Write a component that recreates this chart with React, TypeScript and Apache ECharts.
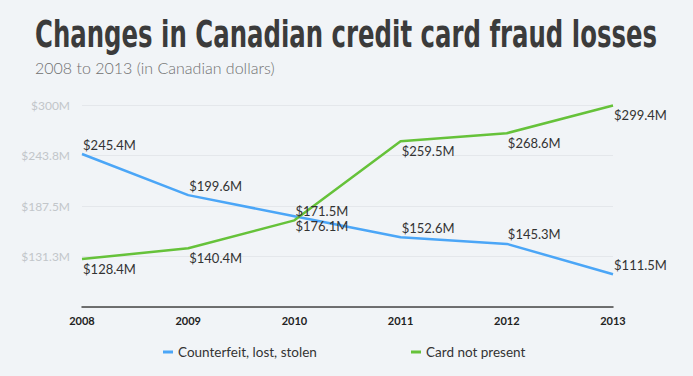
import React, { useEffect, useRef } from "react";
import * as echarts from "echarts";

const years = ["2008", "2009", "2010", "2011", "2012", "2013"];
const counterfeit = [245.4, 199.6, 176.1, 152.6, 145.3, 111.5];
const cardNotPresent = [128.4, 140.4, 171.5, 259.5, 268.6, 299.4];
// label above (-1) or below (+1) each point
const counterfeitLabelSide = [-1, -1, 1, -1, -1, -1];
const cardLabelSide = [1, 1, -1, 1, 1, 1];
const seriesNames = ["Counterfeit, lost, stolen", "Card not present"];
const titleText = "Changes in Canadian credit card fraud losses";
const subtitleText = "2008 to 2013 (in Canadian dollars)";

const BG = "#f1f4f7";
const BLUE = "#4ba6f7";
const GREEN = "#66c23a";

function measure(text: string, font: string): number {
  const c = document.createElement("canvas");
  const ctx = c.getContext("2d")!;
  ctx.font = font;
  return ctx.measureText(text).width;
}

export default function App() {
  const ref = useRef<HTMLDivElement>(null);
  useEffect(() => {
    document.body.style.margin = "0";
    document.body.style.background = BG;
    if (!ref.current) return;
    const chart = echarts.init(ref.current, undefined, { renderer: "svg" });
    const titleFont = 'bold 37px "DejaVu Sans Condensed"';
    const tw = measure(titleText, titleFont);
    const titleScale = tw > 0 ? 622 / tw : 1;

    const mkData = (vals: number[], sides: number[]) =>
      vals.map((v, i) => ({
        value: v,
        label: { offset: [0, sides[i] * 9.5] },
      }));

    const labelStyle = {
      show: true,
      position: "right" as const,
      distance: 1,
      color: "#333",
      fontSize: 13,
      lineHeight: 12,
      fontFamily: "Lato",
      formatter: (p: any) => "$" + p.value.toFixed(1) + "M",
    };

    chart.setOption({
      animation: false,
      backgroundColor: BG,
      graphic: [
        {
          type: "text",
          x: 35,
          y: 34,
          scaleX: titleScale,
          style: {
            text: titleText,
            font: titleFont,
            fill: "#3b3b3b",
            verticalAlign: "middle",
            align: "left",
          },
        },
        {
          type: "text",
          x: 35,
          y: 67,
          style: {
            text: subtitleText,
            font: '300 16px "Lato"',
            fill: "#707070",
            verticalAlign: "middle",
            align: "left",
          },
        },
      ],
      grid: { left: 82, right: 80, top: 105, bottom: 69 },
      xAxis: {
        type: "category",
        data: years,
        boundaryGap: false,
        axisLine: { lineStyle: { color: "#444", width: 1.5 } },
        axisTick: { show: false },
        axisLabel: {
          color: "#222",
          fontSize: 11,
          fontFamily: "Lato",
          fontWeight: "bold",
          margin: 8,
        },
        splitLine: { show: false },
      },
      yAxis: {
        type: "value",
        min: 75,
        max: 300,
        interval: 56.25,
        axisLine: { show: false },
        axisTick: { show: false },
        axisLabel: {
          color: "#c2c6ca",
          fontSize: 12,
          fontFamily: "Lato",
          margin: 12,
          showMinLabel: false,
          formatter: (v: number) =>
            "$" + (Number.isInteger(v) ? String(v) : v.toFixed(1)) + "M",
        },
        splitLine: { lineStyle: { color: "#e4e7eb", width: 1 } },
      },
      legend: [
        {
          data: [{ name: seriesNames[0], itemStyle: { color: BLUE } }],
          left: 158,
          top: 340,
          icon: "rect",
          itemWidth: 10,
          itemHeight: 3,
          itemGap: 8,
          textStyle: { color: "#333", fontSize: 13.5, fontFamily: "Lato" },
        },
        {
          data: [{ name: seriesNames[1], itemStyle: { color: GREEN } }],
          left: 406,
          top: 340,
          icon: "rect",
          itemWidth: 10,
          itemHeight: 3,
          textStyle: { color: "#333", fontSize: 13.5, fontFamily: "Lato" },
        },
      ],
      series: [
        {
          name: seriesNames[0],
          type: "line",
          data: mkData(counterfeit, counterfeitLabelSide),
          symbol: "circle",
          symbolSize: 0.1,
          itemStyle: { color: BLUE },
          lineStyle: { color: BLUE, width: 2.5 },
          label: labelStyle,
          emphasis: { disabled: true },
        },
        {
          name: seriesNames[1],
          type: "line",
          data: mkData(cardNotPresent, cardLabelSide),
          symbol: "circle",
          symbolSize: 0.1,
          itemStyle: { color: GREEN },
          lineStyle: { color: GREEN, width: 2.5 },
          label: labelStyle,
          emphasis: { disabled: true },
        },
      ],
    });
    return () => chart.dispose();
  }, []);
  return <div ref={ref} style={{ width: 693, height: 376 }} />;
}
